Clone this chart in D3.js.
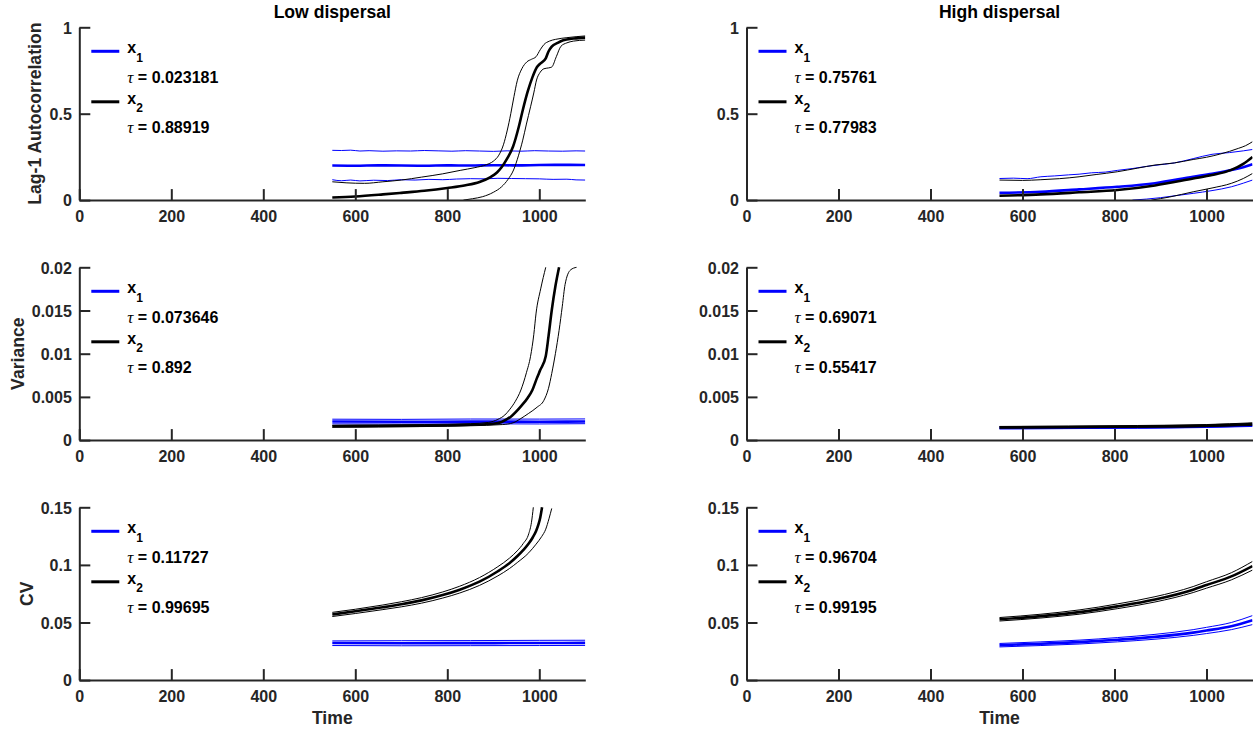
<!DOCTYPE html>
<html>
<head>
<meta charset="utf-8">
<script src="https://cdn.jsdelivr.net/npm/d3@7"></script>
<style>
  html, body { margin: 0; padding: 0; background: #fff; }
  svg { display: block; }
  text { font-family: "Liberation Sans", Arial, Helvetica, sans-serif; font-weight: bold; }
</style>
</head>
<body>
<script>
// ---- axis definitions ----
const timeTicks = [0, 200, 400, 600, 800, 1000];
const timeTickLabels = ["0", "200", "400", "600", "800", "1000"];
const timeDomain = [0, 1100];
const columnTitles = ["Low dispersal", "High dispersal"];
const rowLabels = ["Lag-1 Autocorrelation", "Variance", "CV"];
const rowDomains = [[0, 1], [0, 0.02], [0, 0.15]];
const rowTicks = [[0, 0.5, 1], [0, 0.005, 0.01, 0.015, 0.02], [0, 0.05, 0.1, 0.15]];
const rowTickLabels = [["0", "0.5", "1"], ["0", "0.005", "0.01", "0.015", "0.02"], ["0", "0.05", "0.1", "0.15"]];
const seriesNames = ["1", "2"];

// Kendall tau of each indicator, [x1, x2]
const tauLow = [[0.023181, 0.88919], [0.073646, 0.892], [0.11727, 0.99695]];
const tauHigh = [[0.75761, 0.77983], [0.69071, 0.55417], [0.96704, 0.99195]];

// ---- Lag-1 autocorrelation, low dispersal ----
const acLowX1Mean = [[550,0.200],[600,0.199],[650,0.201],[700,0.200],[750,0.199],[800,0.201],[850,0.200],[900,0.202],[950,0.201],[1000,0.203],[1050,0.204],[1100,0.203]];
const acLowX1Up = [[550,0.288],[570,0.287],[590,0.289],[610,0.284],[630,0.286],[660,0.283],[690,0.285],[720,0.284],[750,0.287],[780,0.285],[810,0.283],[840,0.286],[870,0.284],[900,0.282],[930,0.285],[960,0.283],[990,0.286],[1020,0.284],[1050,0.283],[1080,0.285],[1100,0.284]];
const acLowX1Lo = [[550,0.118],[570,0.112],[590,0.116],[610,0.111],[640,0.115],[670,0.113],[700,0.118],[730,0.116],[760,0.120],[790,0.118],[820,0.122],[850,0.124],[880,0.123],[910,0.126],[940,0.125],[970,0.124],[1000,0.123],[1030,0.120],[1060,0.121],[1080,0.117],[1100,0.116]];
const acLowX2Mean = [[550,0.015],[600,0.021],[660,0.033],[700,0.042],[750,0.054],[800,0.070],[840,0.086],[870,0.105],[893,0.132],[908,0.16],[918,0.19],[930,0.24],[943,0.31],[955,0.42],[964,0.52],[975,0.63],[985,0.71],[995,0.77],[1002,0.79],[1014,0.82],[1020,0.86],[1027,0.888],[1040,0.91],[1052,0.925],[1075,0.935],[1100,0.94]];
const acLowX2Up = [[550,0.106],[580,0.100],[620,0.097],[660,0.106],[700,0.116],[744,0.133],[790,0.152],[828,0.172],[860,0.188],[885,0.205],[900,0.225],[912,0.26],[922,0.32],[930,0.40],[938,0.50],[945,0.60],[952,0.69],[962,0.76],[973,0.80],[983,0.815],[993,0.83],[1002,0.87],[1010,0.9],[1022,0.92],[1035,0.93],[1060,0.94],[1100,0.95]];
const acLowX2Lo = [[835,0],[855,0.008],[877,0.02],[900,0.045],[918,0.077],[932,0.12],[944,0.174],[955,0.26],[964,0.347],[972,0.44],[981,0.54],[988,0.62],[994,0.695],[1002,0.74],[1010,0.76],[1020,0.765],[1027,0.77],[1037,0.83],[1047,0.89],[1060,0.91],[1074,0.92],[1100,0.926]];

// ---- Lag-1 autocorrelation, high dispersal ----
const acHighX1Mean = [[550,0.042],[640,0.048],[723,0.062],[806,0.077],[888,0.098],[971,0.135],[1012,0.152],[1054,0.174],[1080,0.19],[1100,0.207]];
const acHighX1Up = [[550,0.125],[580,0.127],[610,0.124],[640,0.135],[670,0.140],[700,0.146],[723,0.150],[750,0.158],[780,0.162],[806,0.172],[840,0.183],[870,0.195],[900,0.205],[930,0.215],[971,0.24],[1012,0.265],[1050,0.275],[1080,0.285],[1100,0.293]];
const acHighX1Lo = [[839,0],[870,0.006],[900,0.014],[940,0.028],[971,0.039],[1012,0.055],[1054,0.077],[1080,0.098],[1100,0.116]];
const acHighX2Mean = [[550,0.025],[640,0.033],[723,0.045],[806,0.058],[888,0.085],[971,0.125],[1012,0.145],[1054,0.175],[1080,0.21],[1100,0.25]];
const acHighX2Up = [[550,0.116],[600,0.114],[640,0.118],[680,0.124],[723,0.135],[760,0.148],[806,0.164],[850,0.185],[888,0.203],[930,0.215],[971,0.235],[1000,0.248],[1029,0.266],[1050,0.282],[1070,0.3],[1085,0.315],[1100,0.338]];
const acHighX2Lo = [[880,0],[920,0.018],[971,0.048],[1012,0.07],[1054,0.097],[1080,0.125],[1100,0.154]];

// ---- Variance, low dispersal ----
const varLowX1Mean = [[550,0.00215],[700,0.00212],[850,0.00214],[1000,0.00213],[1100,0.00215]];
const varLowX1Up = [[550,0.00242],[700,0.00240],[850,0.00244],[1000,0.00243],[1100,0.00245]];
const varLowX1Lo = [[550,0.00188],[700,0.00186],[850,0.00189],[1000,0.00187],[1100,0.00190]];
const varLowX2Mean = [[550,0.0016],[650,0.00163],[750,0.00168],[850,0.00178],[900,0.0019],[918,0.0021],[940,0.0028],[960,0.0039],[975,0.0049],[985,0.0058],[995,0.0072],[1002,0.0081],[1014,0.0097],[1020,0.012],[1027,0.015],[1035,0.0178],[1043,0.02]];
const varLowX2Up = [[550,0.00172],[650,0.00175],[750,0.0018],[850,0.0019],[890,0.00205],[910,0.0024],[925,0.0029],[935,0.0035],[948,0.0045],[960,0.0058],[972,0.0078],[981,0.0097],[988,0.0122],[993,0.0147],[1003,0.0175],[1014,0.02]];
const varLowX2Lo = [[550,0.00148],[650,0.00152],[750,0.00157],[850,0.00166],[920,0.0018],[943,0.002],[960,0.0025],[977,0.0031],[995,0.0038],[1010,0.0046],[1020,0.006],[1027,0.0077],[1035,0.01],[1043,0.0127],[1050,0.0155],[1056,0.018],[1068,0.0197],[1081,0.02]];

// ---- Variance, high dispersal ----
const varHighX1Mean = [[550,0.00140],[700,0.00143],[850,0.00148],[1000,0.00158],[1100,0.00172]];
const varHighX1Up = [[550,0.00150],[700,0.00153],[850,0.00159],[1000,0.00170],[1100,0.00186]];
const varHighX1Lo = [[550,0.00130],[700,0.00133],[850,0.00137],[1000,0.00146],[1100,0.00158]];
const varHighX2Mean = [[550,0.00148],[700,0.00152],[850,0.00158],[1000,0.00168],[1100,0.00185]];
const varHighX2Up = [[550,0.00158],[700,0.00162],[850,0.00169],[1000,0.00180],[1100,0.00200]];
const varHighX2Lo = [[550,0.00138],[700,0.00142],[850,0.00147],[1000,0.00156],[1100,0.00170]];

// ---- Coefficient of variation, low dispersal ----
const cvLowX1Mean = [[550,0.0322],[700,0.0320],[850,0.0321],[1000,0.0322],[1100,0.0323]];
const cvLowX1Up = [[550,0.0340],[700,0.0342],[850,0.0343],[1000,0.0345],[1100,0.0346]];
const cvLowX1Lo = [[550,0.0300],[700,0.0298],[850,0.0299],[1000,0.0300],[1100,0.0301]];
const cvLowX2Mean = [[550,0.057],[600,0.0597],[660,0.0632],[700,0.0658],[744,0.0692],[790,0.0738],[827,0.0785],[870,0.0855],[910,0.0945],[935,0.1015],[952,0.1075],[965,0.1128],[977,0.1185],[986,0.124],[993,0.1295],[998,0.135],[1002,0.141],[1006,0.15]];
const cvLowX2Up = [[550,0.0588],[600,0.0615],[660,0.0652],[700,0.068],[744,0.0716],[790,0.0765],[827,0.0815],[870,0.089],[910,0.0985],[935,0.1058],[952,0.1122],[965,0.1185],[977,0.127],[983,0.137],[987,0.15]];
const cvLowX2Lo = [[550,0.0552],[600,0.0578],[660,0.0612],[700,0.0636],[744,0.0668],[790,0.0712],[827,0.0756],[870,0.0822],[910,0.0905],[935,0.0968],[952,0.102],[977,0.1105],[993,0.118],[1005,0.1245],[1014,0.131],[1021,0.14],[1027,0.149]];

// ---- Coefficient of variation, high dispersal ----
const cvHighX1Mean = [[550,0.0303],[640,0.0316],[723,0.0330],[806,0.0350],[888,0.0375],[971,0.0412],[1000,0.0430],[1054,0.0468],[1100,0.0520]];
const cvHighX1Up = [[550,0.0318],[640,0.0332],[723,0.0347],[806,0.0369],[888,0.0397],[971,0.0438],[1000,0.0458],[1054,0.0500],[1100,0.0560]];
const cvHighX1Lo = [[550,0.0288],[640,0.0300],[723,0.0313],[806,0.0332],[888,0.0355],[971,0.0388],[1000,0.0404],[1054,0.0438],[1100,0.0482]];
const cvHighX2Mean = [[550,0.0528],[640,0.0555],[723,0.0590],[806,0.0640],[888,0.0700],[971,0.0785],[1000,0.0825],[1054,0.0900],[1100,0.0990]];
const cvHighX2Up = [[550,0.0543],[640,0.0572],[723,0.0609],[806,0.0661],[888,0.0724],[971,0.0812],[1000,0.0854],[1054,0.0932],[1100,0.1030]];
const cvHighX2Lo = [[550,0.0513],[640,0.0539],[723,0.0572],[806,0.0620],[888,0.0678],[971,0.0760],[1000,0.0798],[1054,0.0870],[1100,0.0955]];

// grid of panels: rows = indicator, columns = dispersal level
const panelSeries = [
  [ { x1: [acLowX1Mean, acLowX1Up, acLowX1Lo],   x2: [acLowX2Mean, acLowX2Up, acLowX2Lo] },
    { x1: [acHighX1Mean, acHighX1Up, acHighX1Lo], x2: [acHighX2Mean, acHighX2Up, acHighX2Lo] } ],
  [ { x1: [varLowX1Mean, varLowX1Up, varLowX1Lo],   x2: [varLowX2Mean, varLowX2Up, varLowX2Lo] },
    { x1: [varHighX1Mean, varHighX1Up, varHighX1Lo], x2: [varHighX2Mean, varHighX2Up, varHighX2Lo] } ],
  [ { x1: [cvLowX1Mean, cvLowX1Up, cvLowX1Lo],   x2: [cvLowX2Mean, cvLowX2Up, cvLowX2Lo] },
    { x1: [cvHighX1Mean, cvHighX1Up, cvHighX1Lo], x2: [cvHighX2Mean, cvHighX2Up, cvHighX2Lo] } ]
];
const panelTau = [tauLow, tauHigh];

// ---- layout ----
const W = 1255, H = 733;
const colLeft = [79.3, 746.5];
const plotW = 506;
const rowTop = [27.3, 267.3, 507.3];
const plotH = 172.8;
const ylabelX = [41, 23.5, 33];
const axisColor = "#262626";
const seriesColors = ["#0000ff", "#000000"];

const svg = d3.select("body").append("svg").attr("width", W).attr("height", H);

rowTop.forEach((top, r) => {
  colLeft.forEach((left, c) => {
    const x = d3.scaleLinear().domain(timeDomain).range([left, left + plotW]);
    const y = d3.scaleLinear().domain(rowDomains[r]).range([top + plotH, top]);
    const g = svg.append("g");

    const clipId = `clip-${r}-${c}`;
    svg.append("clipPath").attr("id", clipId)
      .append("rect").attr("x", left).attr("y", top - 1).attr("width", plotW).attr("height", plotH + 1);

    const line = d3.line().curve(d3.curveMonotoneX).x(d => x(d[0])).y(d => y(d[1]));
    const plot = g.append("g").attr("clip-path", `url(#${clipId})`);
    ["x1", "x2"].forEach((key, s) => {
      const [mean, up, lo] = panelSeries[r][c][key];
      [up, lo].forEach(b => {
        plot.append("path").datum(b).attr("d", line)
          .attr("fill", "none").attr("stroke", seriesColors[s]).attr("stroke-width", 1);
      });
      plot.append("path").datum(mean).attr("d", line)
        .attr("fill", "none").attr("stroke", seriesColors[s]).attr("stroke-width", 2.6);
    });

    // axes
    const xAxis = d3.axisBottom(x).tickValues(timeTicks).tickFormat((d, i) => timeTickLabels[i])
      .tickSizeInner(-11).tickSizeOuter(0).tickPadding(10.6);
    const yAxis = d3.axisLeft(y).tickValues(rowTicks[r]).tickFormat((d, i) => rowTickLabels[r][i])
      .tickSizeInner(-11).tickSizeOuter(0).tickPadding(7.5);
    const gx = g.append("g").attr("transform", `translate(0,${top + plotH})`).call(xAxis);
    const gy = g.append("g").attr("transform", `translate(${left},0)`).call(yAxis);
    [gx, gy].forEach(a => {
      a.selectAll("path, line").attr("stroke", axisColor).attr("stroke-width", 2);
      a.selectAll("text").attr("fill", axisColor).style("font-size", "16px")
        .style("font-family", '"Liberation Sans", Arial, sans-serif').style("font-weight", "bold");
    });
    gy.selectAll("text").attr("dy", "0.36em");

    // legend
    const tau = panelTau[c][r];
    const lg = g.append("g").attr("transform", `translate(${left},${top})`);
    seriesNames.forEach((nm, s) => {
      const oy = s * 50.5;
      lg.append("line").attr("x1", 12).attr("x2", 40).attr("y1", 24 + oy).attr("y2", 24 + oy)
        .attr("stroke", seriesColors[s]).attr("stroke-width", 3);
      const t = lg.append("text").attr("x", 48).attr("y", 26 + oy).attr("fill", "#000").style("font-size", "16px");
      t.append("tspan").text("x");
      t.append("tspan").attr("dy", 8.5).style("font-size", "12px").text(nm);
      const tt = lg.append("text").attr("x", 48).attr("y", 55.5 + oy).attr("fill", "#000").style("font-size", "16px");
      tt.append("tspan").style("font-family", '"Liberation Serif", "DejaVu Serif", serif')
        .style("font-style", "italic").style("font-weight", "normal").style("font-size", "17px").text("τ");
      tt.append("tspan").text(" = " + String(tau[s]));
    });

    if (c === 0) {
      g.append("text").attr("transform", `translate(${ylabelX[r]},${top + plotH / 2}) rotate(-90)`)
        .attr("text-anchor", "middle").attr("fill", axisColor).style("font-size", "17.6px").text(rowLabels[r]);
    }
    if (r === 0) {
      g.append("text").attr("x", left + plotW / 2).attr("y", 18).attr("text-anchor", "middle")
        .attr("fill", "#000").style("font-size", "17.6px").text(columnTitles[c]);
    }
    if (r === rowTop.length - 1) {
      g.append("text").attr("x", left + plotW / 2).attr("y", 724).attr("text-anchor", "middle")
        .attr("fill", axisColor).style("font-size", "17.6px").text("Time");
    }
  });
});
</script>
</body>
</html>
